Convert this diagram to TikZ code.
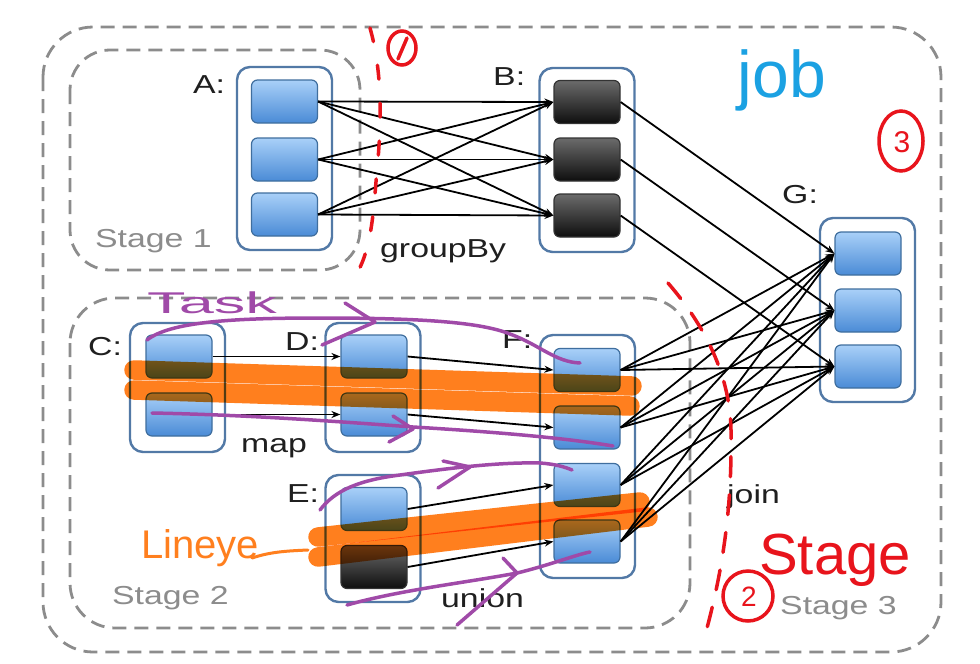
\documentclass[tikz,border=0pt]{standalone}
\usepackage{fontspec}
\setmainfont{Liberation Sans}
\usepackage{graphicx}
\usetikzlibrary{arrows.meta}
\definecolor{partTop}{HTML}{A9D0F8}
\definecolor{partBot}{HTML}{4A8BD6}
\definecolor{partEdge}{HTML}{3F6E9E}
\definecolor{contEdge}{HTML}{5279A6}
\definecolor{dashGray}{HTML}{8C8C8C}
\definecolor{darkTop}{HTML}{6B6B6B}
\definecolor{darkBot}{HTML}{0E0E0E}
\definecolor{hlOrange}{HTML}{FF7F1E}
\definecolor{penPurple}{HTML}{A04AA8}
\definecolor{penRed}{HTML}{E8141C}
\definecolor{penBlue}{HTML}{1BA1E2}
\newcommand{\hstr}[1]{\scalebox{1.3}[1]{#1}}
\begin{document}
\begin{tikzpicture}[x=1pt,y=-1pt,
 part/.style={draw=partEdge, line width=1.2pt, rounded corners=6pt, minimum width=66pt, minimum height=43pt, inner sep=0pt, top color=partTop, bottom color=partBot},
 dpart/.style={part, draw=black!80, top color=darkTop, bottom color=darkBot},
 cont/.style={draw=contEdge, line width=2.4pt, rounded corners=13pt, fill=white, inner sep=0pt, minimum width=95pt},
 stagebox/.style={draw=dashGray, line width=2.8pt, dash pattern=on 14pt off 8pt},
 lbl/.style={font=\fontsize{26}{26}\selectfont, text=black!88, inner sep=0pt, anchor=base west},
 glbl/.style={lbl, text=dashGray},
 edge/.style={draw=black, line width=1.8pt, -{Stealth[length=9pt,width=7pt]}},
 hl/.style={draw=hlOrange, line width=19.5pt, line cap=round},
 pen/.style={draw=penPurple, line width=3.5pt, line cap=round, line join=round},
 redpen/.style={draw=penRed, line width=3.5pt, line cap=round},
 hand/.style={inner sep=0pt, anchor=center}
]
\useasboundingbox (0,0) rectangle (980,664);
\fill[white] (0,0) rectangle (980,664);

% stage boxes
\draw[stagebox, rounded corners=50pt] (43,27) rectangle (941,652);
\draw[stagebox, rounded corners=40pt] (70,50) rectangle (360,270);
\draw[stagebox, rounded corners=45pt] (70,298) rectangle (690,628);

% containers
\node[cont, minimum height=183pt] (Acont) at (284.5,158.5) {};
\node[cont, minimum height=184pt] (Bcont) at (587,160) {};
\node[cont, minimum height=184pt] (Gcont) at (867.5,310) {};
\node[cont, minimum height=129pt] (Ccont) at (177.5,387.5) {};
\node[cont, minimum height=129pt] (Dcont) at (373,387.5) {};
\node[cont, minimum height=127pt] (Econt) at (373,538.5) {};
\node[cont, minimum height=243pt] (Fcont) at (587.5,456.5) {};

% partitions
\node[part] (a1) at (284.5,101.5) {};
\node[part] (a2) at (284.5,159.5) {};
\node[part] (a3) at (284.5,214.5) {};
\node[dpart] (b1) at (587,102) {};
\node[dpart] (b2) at (587,159.5) {};
\node[dpart] (b3) at (587,215.5) {};
\node[part] (g1) at (868,253.5) {};
\node[part] (g2) at (868,310.5) {};
\node[part] (g3) at (868,366.5) {};
\node[part] (c1) at (179,356.5) {};
\node[part] (c2) at (179,414.5) {};
\node[part] (d1) at (374,356.5) {};
\node[part] (d2) at (374,414.5) {};
\node[part] (e1) at (374,509) {};
\node[dpart] (e2) at (374,567) {};
\node[part] (f1) at (587,370) {};
\node[part] (f2) at (587,427.5) {};
\node[part] (f3) at (587,485) {};
\node[part] (f4) at (587,541.5) {};

% edges
\foreach \s in {a1,a2,a3}{\foreach \t in {b1,b2,b3}{\draw[edge] (\s.east) -- (\t.west);}}
\draw[edge] (b1.east) -- (g1.west);
\draw[edge] (b2.east) -- (g2.west);
\draw[edge] (b3.east) -- (g3.west);
\foreach \s in {f1,f2,f3,f4}{\foreach \t in {g1,g2,g3}{\draw[edge] (\s.east) -- (\t.west);}}
\draw[edge] (c1.east) -- (d1.west);
\draw[edge] (c2.east) -- (d2.west);
\draw[edge] (d1.east) -- (f1.west);
\draw[edge] (d2.east) -- (f2.west);
\draw[edge] (e1.east) -- (f3.west);
\draw[edge] (e2.east) -- (f4.west);

% labels
\node[lbl] (lA) at (193,93) {\hstr{A:}};
\node[lbl] (lB) at (493,85) {\hstr{B:}};
\node[lbl] (lG) at (782,203) {\hstr{G:}};
\node[lbl] (lC) at (88,355) {\hstr{C:}};
\node[lbl] (lD) at (285,350) {\hstr{D:}};
\node[lbl] (lE) at (287,502) {\hstr{E:}};
\node[lbl] (lF) at (502,348) {\hstr{F:}};
\node[lbl] (lgroup) at (380,257) {\hstr{groupBy}};
\node[lbl] (lmap) at (241,452) {\hstr{map}};
\node[lbl] (lunion) at (441,607) {\hstr{union}};
\node[lbl] (ljoin) at (727,503) {\hstr{join}};
\node[glbl] (ls1) at (95,247) {\hstr{Stage 1}};
\node[glbl] (ls2) at (112,604) {\hstr{Stage 2}};
\node[glbl] (ls3) at (780,614) {\hstr{Stage 3}};

% orange lineage highlights
\begin{scope}[blend mode=multiply]
\draw[hl] (134,370) -- (632,386);
\draw[hl] (134,390) -- (630,406);
\draw[hl] (318,537) -- (640,502);
\draw[hl] (318,557) -- (648,517);
\end{scope}
\draw[draw=hlOrange, line width=3pt, line cap=round] (252,558) .. controls (270,552) and (285,551) .. (308,550);
\node[hand, text=hlOrange, font=\fontsize{40}{40}\selectfont] (lineage) at (200,548) {Lineye};

% purple task arrows
\node[hand, text=penPurple, font=\fontsize{30}{30}\selectfont] (task) at (212,303) {\scalebox{2.1}[1]{Task}};
\draw[pen] (147,340) .. controls (170,322) and (230,318) .. (320,318) .. controls (420,318) and (480,322) .. (510,334) .. controls (540,345) and (555,362) .. (580,363);
\draw[pen] (345,303) -- (375,322) -- (322,345);
\draw[pen] (152,413) .. controls (250,415) and (330,421) .. (413,427) .. controls (480,431) and (560,437) .. (613,446);
\draw[pen] (393,416) -- (413,429) -- (389,442);
\draw[pen] (320,510) .. controls (335,490) and (360,480) .. (400,475) .. controls (450,468) and (500,462) .. (540,463) .. controls (555,464) and (565,467) .. (572,470);
\draw[pen] (443,461) -- (470,467) -- (438,488);
\draw[pen] (347,605) .. controls (400,590) and (470,582) .. (517,573) .. controls (550,565) and (575,555) .. (590,552);
\draw[pen] (503,558) -- (517,573) -- (457,625);

% red stage boundaries
\draw[redpen, dash pattern=on 14pt off 24pt] (370,28) .. controls (382,70) and (382,120) .. (377,170) .. controls (373,215) and (372,260) .. (347,287);
\draw[redpen, dash pattern=on 20pt off 18pt] (668,283) .. controls (700,320) and (730,370) .. (731,430) .. controls (732,500) and (725,560) .. (707,628);
\draw[redpen] (402,48) ellipse [x radius=14, y radius=17];
\draw[redpen] (398,59) -- (407,38);
\draw[redpen] (901,141) ellipse [x radius=22, y radius=30];
\node[hand, text=penRed, font=\fontsize{30}{30}\selectfont] (n3) at (902,142) {3};
\draw[redpen] (748,596) circle [radius=25];
\node[hand, text=penRed, font=\fontsize{28}{28}\selectfont] (n2) at (749,597) {2};
\node[hand, text=penRed, font=\fontsize{58}{58}\selectfont] (stage) at (835,560) {Stage};

% blue job
\node[hand, text=penBlue, font=\fontsize{66}{66}\selectfont] (job) at (782,80) {job};
\end{tikzpicture}
\end{document}
